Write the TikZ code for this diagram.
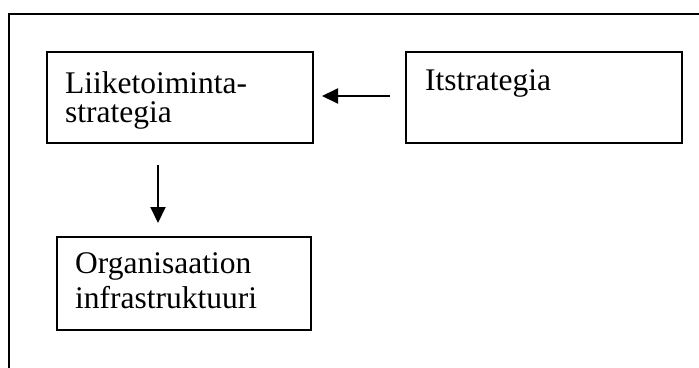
\documentclass[tikz,border=0pt]{standalone}
\usepackage{fontspec}
\setmainfont{Liberation Serif}
\usetikzlibrary{arrows.meta}
\begin{document}
\begin{tikzpicture}[x=1pt,y=-1pt,
  box/.style={draw=black,line width=2.2pt,rectangle,anchor=north west,inner sep=0pt},
  txt/.style={anchor=base west,inner sep=0pt,font=\fontsize{31.5}{35}\selectfont},
  conn/.style={line width=2pt,-{Triangle[length=16pt,width=15pt]}}]
\useasboundingbox (0,0) rectangle (699,367);
% outer frame (cropped)
\coordinate (frbl) at (9,370);
\coordinate (frtl) at (9,14);
\coordinate (frtr) at (702,14);
\draw[line width=2.2pt] (frbl) -- (frtl) -- (frtr);
% boxes
\node[box,minimum width=266pt,minimum height=91pt] (b1) at (46,51) {};
\node[box,minimum width=276pt,minimum height=91pt] (b2) at (405,51) {};
\node[box,minimum width=254pt,minimum height=93pt] (b3) at (56,236) {};
% texts
\node[txt] (t1a) at (65,93) {Liiketoiminta-};
\node[txt] (t1b) at (65,122) {strategia};
\node[txt] (t2) at (425,90) {Itstrategia};
\node[txt] (t3a) at (75,273) {Organisaation};
\node[txt] (t3b) at (75,308) {infrastruktuuri};
% connectors
\coordinate (h1) at (390,96);
\coordinate (h2) at (322,96);
\coordinate (v1) at (158,165);
\coordinate (v2) at (158,223);
\draw[conn] (h1) -- (h2);
\draw[conn] (v1) -- (v2);
\end{tikzpicture}
\end{document}
